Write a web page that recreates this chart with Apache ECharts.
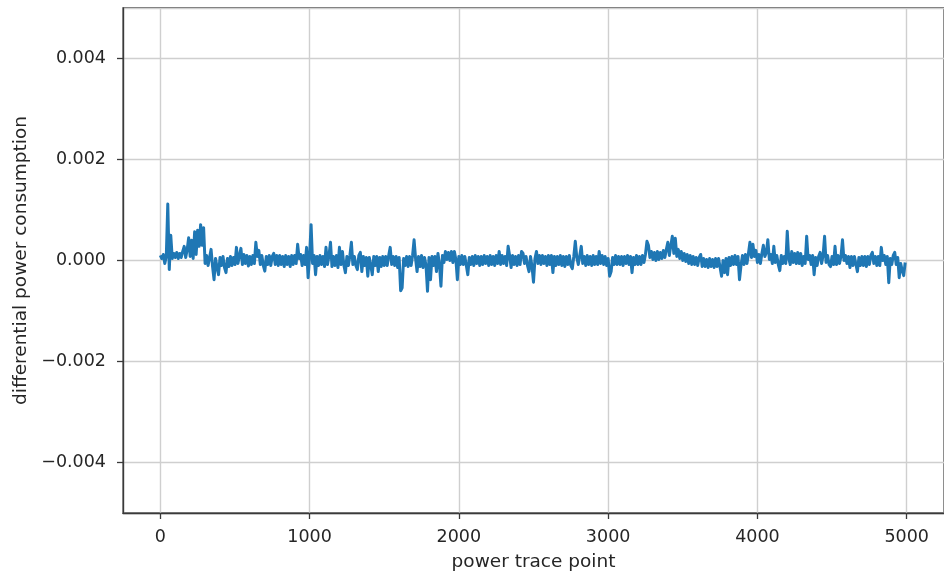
<!DOCTYPE html>
<html>
<head>
<meta charset="utf-8">
<script src="https://cdn.jsdelivr.net/npm/echarts@6/dist/echarts.min.js"></script>
<style>
  html, body { margin: 0; padding: 0; background: #ffffff; }
  #chart { width: 944px; height: 577px; }
</style>
</head>
<body>
<div id="chart"></div>
<script>
// Differential power consumption, one sample every `sampleStep` trace points (0 .. 4990)
const sampleStep = 10;
const diffPower = [
  0.00010, 0.00004, 0.00012, -0.00006, 0.00008, 0.00112, -0.00018, 0.00050, 0.00004, 0.00014,
  0.00006, 0.00016, 0.00004, 0.00014, 0.00006, 0.00018, 0.00028, 0.00006, 0.00022, 0.00045,
  0.00008, 0.00040, 0.00004, 0.00057, 0.00012, 0.00060, 0.00028, 0.00071, 0.00030, 0.00065,
  -0.00006, 0.00010, -0.00010, 0.00006, 0.00022, -0.00012, -0.00038, 0.00004, -0.00014, -0.00028,
  0.00006, -0.00010, 0.00008, -0.00014, -0.00024, 0.00004, -0.00012, 0.00008, -0.00010, 0.00006,
  -0.00008, 0.00026, -0.00006, 0.00010, 0.00024, -0.00008, 0.00012, -0.00006, 0.00010, -0.00011,
  0.00008, -0.00008, 0.00010, -0.00006, 0.00036, 0.00008, 0.00020, -0.00008, 0.00010, -0.00010,
  -0.00021, 0.00008, -0.00008, 0.00010, -0.00010, 0.00008, 0.00014, -0.00008, 0.00010, -0.00010,
  0.00010, -0.00008, 0.00008, -0.00012, 0.00010, -0.00008, 0.00008, -0.00012, 0.00010, -0.00008,
  0.00010, -0.00006, 0.00032, 0.00004, 0.00012, -0.00010, 0.00010, -0.00008, 0.00026, -0.00034,
  0.00008, 0.00071, -0.00006, 0.00010, -0.00028, 0.00008, -0.00010, 0.00010, -0.00008, 0.00008,
  -0.00012, 0.00026, -0.00008, 0.00010, 0.00036, -0.00012, 0.00008, -0.00010, 0.00010, -0.00014,
  0.00026, -0.00008, 0.00018, -0.00010, -0.00024, 0.00008, -0.00010, 0.00010, 0.00036, -0.00008,
  0.00008, -0.00010, -0.00018, 0.00010, 0.00016, -0.00022, 0.00008, -0.00010, 0.00006, -0.00031,
  0.00006, -0.00010, -0.00028, 0.00008, -0.00010, 0.00008, -0.00022, 0.00006, -0.00012, 0.00008,
  -0.00010, 0.00008, -0.00010, 0.00010, 0.00026, -0.00008, 0.00008, -0.00010, 0.00008, -0.00014,
  0.00006, -0.00060, -0.00054, 0.00004, -0.00010, 0.00008, -0.00012, 0.00008, -0.00010, 0.00010,
  0.00041, 0.00004, -0.00022, 0.00008, -0.00012, 0.00010, -0.00014, 0.00006, -0.00010, -0.00061,
  0.00006, -0.00038, 0.00008, -0.00010, 0.00008, -0.00022, 0.00014, -0.00008, -0.00051, 0.00010,
  -0.00004, 0.00018, 0.00002, 0.00016, 0.00000, 0.00018, -0.00004, 0.00018, 0.00002, -0.00038,
  0.00008, -0.00008, 0.00010, -0.00008, 0.00008, -0.00010, -0.00028, 0.00006, -0.00008, 0.00008,
  -0.00010, 0.00010, -0.00006, 0.00008, -0.00010, 0.00008, -0.00008, 0.00010, -0.00006, 0.00008,
  -0.00010, 0.00010, -0.00008, 0.00008, -0.00010, 0.00010, -0.00006, 0.00018, -0.00008, 0.00010,
  -0.00006, 0.00008, -0.00010, 0.00028, 0.00010, -0.00014, 0.00010, -0.00008, 0.00008, -0.00010,
  0.00010, -0.00008, 0.00018, 0.00014, -0.00006, 0.00008, -0.00010, -0.00022, 0.00008, -0.00012,
  -0.00043, 0.00004, 0.00018, -0.00006, 0.00010, -0.00008, 0.00010, -0.00006, 0.00008, -0.00010,
  0.00010, -0.00008, 0.00010, -0.00024, 0.00008, -0.00010, 0.00008, -0.00008, 0.00010, -0.00010,
  0.00008, -0.00012, 0.00008, -0.00008, 0.00010, -0.00010, -0.00016, 0.00008, 0.00038, 0.00006,
  -0.00008, 0.00010, 0.00028, -0.00006, 0.00008, -0.00010, 0.00010, -0.00008, 0.00008, -0.00010,
  0.00010, -0.00008, 0.00008, -0.00008, 0.00018, -0.00006, 0.00010, -0.00008, 0.00008, -0.00010,
  0.00004, -0.00031, -0.00022, 0.00006, -0.00008, 0.00010, -0.00008, 0.00008, -0.00008, 0.00008,
  -0.00010, 0.00008, -0.00006, 0.00010, -0.00008, 0.00008, -0.00024, 0.00006, -0.00008, 0.00010,
  -0.00008, 0.00008, -0.00008, 0.00010, -0.00004, 0.00012, 0.00038, 0.00030, 0.00006, 0.00018,
  0.00002, 0.00016, 0.00000, 0.00018, 0.00002, 0.00016, 0.00004, 0.00020, 0.00006, 0.00022,
  0.00036, 0.00010, 0.00030, 0.00048, 0.00014, 0.00044, 0.00008, 0.00022, 0.00004, 0.00018,
  0.00000, 0.00014, -0.00002, 0.00012, -0.00006, 0.00010, -0.00008, 0.00008, -0.00008, 0.00006,
  -0.00010, 0.00006, 0.00012, -0.00012, 0.00004, -0.00012, 0.00002, -0.00014, 0.00004, -0.00012,
  0.00002, -0.00014, 0.00004, -0.00012, 0.00004, -0.00014, -0.00031, 0.00000, -0.00024, 0.00004,
  -0.00028, 0.00006, -0.00010, 0.00008, -0.00008, 0.00010, -0.00008, 0.00008, -0.00038, -0.00010,
  0.00010, -0.00008, 0.00012, -0.00006, 0.00014, 0.00036, 0.00006, 0.00032, 0.00008, 0.00020,
  -0.00004, 0.00012, -0.00006, 0.00014, 0.00030, 0.00008, 0.00016, 0.00041, 0.00002, 0.00012,
  -0.00006, 0.00028, -0.00004, 0.00010, -0.00008, -0.00020, 0.00010, -0.00006, 0.00008, -0.00006,
  0.00058, 0.00004, -0.00008, 0.00018, -0.00004, 0.00014, -0.00006, 0.00016, -0.00006, 0.00014,
  -0.00010, 0.00008, -0.00006, 0.00048, 0.00002, 0.00010, -0.00008, 0.00010, -0.00028, 0.00006,
  -0.00010, 0.00008, 0.00016, -0.00006, 0.00010, 0.00048, -0.00004, 0.00010, -0.00008, -0.00012,
  0.00008, -0.00008, 0.00028, -0.00008, 0.00010, -0.00006, 0.00008, 0.00041, 0.00000, 0.00010,
  -0.00006, 0.00008, -0.00014, 0.00008, -0.00010, 0.00008, -0.00008, -0.00022, 0.00006, -0.00010,
  0.00008, -0.00010, 0.00008, -0.00012, 0.00008, -0.00008, 0.00010, 0.00016, -0.00006, 0.00008,
  -0.00010, 0.00008, -0.00010, 0.00026, 0.00000, 0.00010, -0.00008, 0.00008, -0.00044, 0.00004,
  -0.00008, 0.00010, 0.00016, -0.00008, 0.00006, -0.00034, -0.00006, -0.00020, -0.00030, -0.00004
];

// [trace point, value] pairs for the value-type x axis
const seriesData = diffPower.map((v, i) => [i * sampleStep, v]);

const FONT = 'DejaVu Sans';
const TEXT = '#262626';
const SPINE = '#3a3a3a';
const GRIDLINE = '#cfcfcf';
const TICK_LEN = 6;

const chart = echarts.init(document.getElementById('chart'), null, { renderer: 'canvas' });

chart.setOption({
  animation: false,
  backgroundColor: '#ffffff',
  grid: {
    left: 123,
    top: 8,
    width: 830,
    height: 506,
    show: true,
    borderColor: SPINE,
    borderWidth: 1.3,
    backgroundColor: 'transparent'
  },
  xAxis: {
    type: 'value',
    min: -250,
    max: 5250,
    name: 'power trace point',
    nameLocation: 'middle',
    nameGap: 40,
    nameTextStyle: { fontFamily: FONT, fontSize: 18.5, color: TEXT },
    axisLine: { show: true, onZero: false, lineStyle: { color: SPINE, width: 1.3 } },
    axisTick: { show: true, length: TICK_LEN, inside: false,
      lineStyle: { color: SPINE, width: 1.3 } },
    axisLabel: { show: true, margin: 15, showMinLabel: false, showMaxLabel: false,
      fontFamily: FONT, fontSize: 17.5, color: TEXT,
      formatter: (v) => String(v) },
    splitLine: { show: true, lineStyle: { color: GRIDLINE, width: 1.4 } }
  },
  yAxis: {
    type: 'value',
    min: -0.005,
    max: 0.005,
    name: 'differential power consumption',
    nameLocation: 'middle',
    nameGap: 92,
    nameTextStyle: { fontFamily: FONT, fontSize: 18.5, color: TEXT },
    axisLine: { show: true, onZero: false, lineStyle: { color: SPINE, width: 1.3 } },
    axisTick: { show: true, length: TICK_LEN, inside: false,
      lineStyle: { color: SPINE, width: 1.3 } },
    axisLabel: {
      show: true, margin: 17, showMinLabel: false, showMaxLabel: false,
      fontFamily: FONT, fontSize: 17.5, color: TEXT,
      formatter: (v) => (v < 0 ? '\u2212' : '') + Math.abs(v).toFixed(3)
    },
    splitLine: { show: true, lineStyle: { color: GRIDLINE, width: 1.4 } }
  },
  series: [{
    type: 'line',
    data: seriesData,
    showSymbol: false,
    symbol: 'none',
    clip: true,
    lineStyle: { color: '#1f77b4', width: 3, join: 'round' },
    z: 3
  }]
});
</script>
</body>
</html>
